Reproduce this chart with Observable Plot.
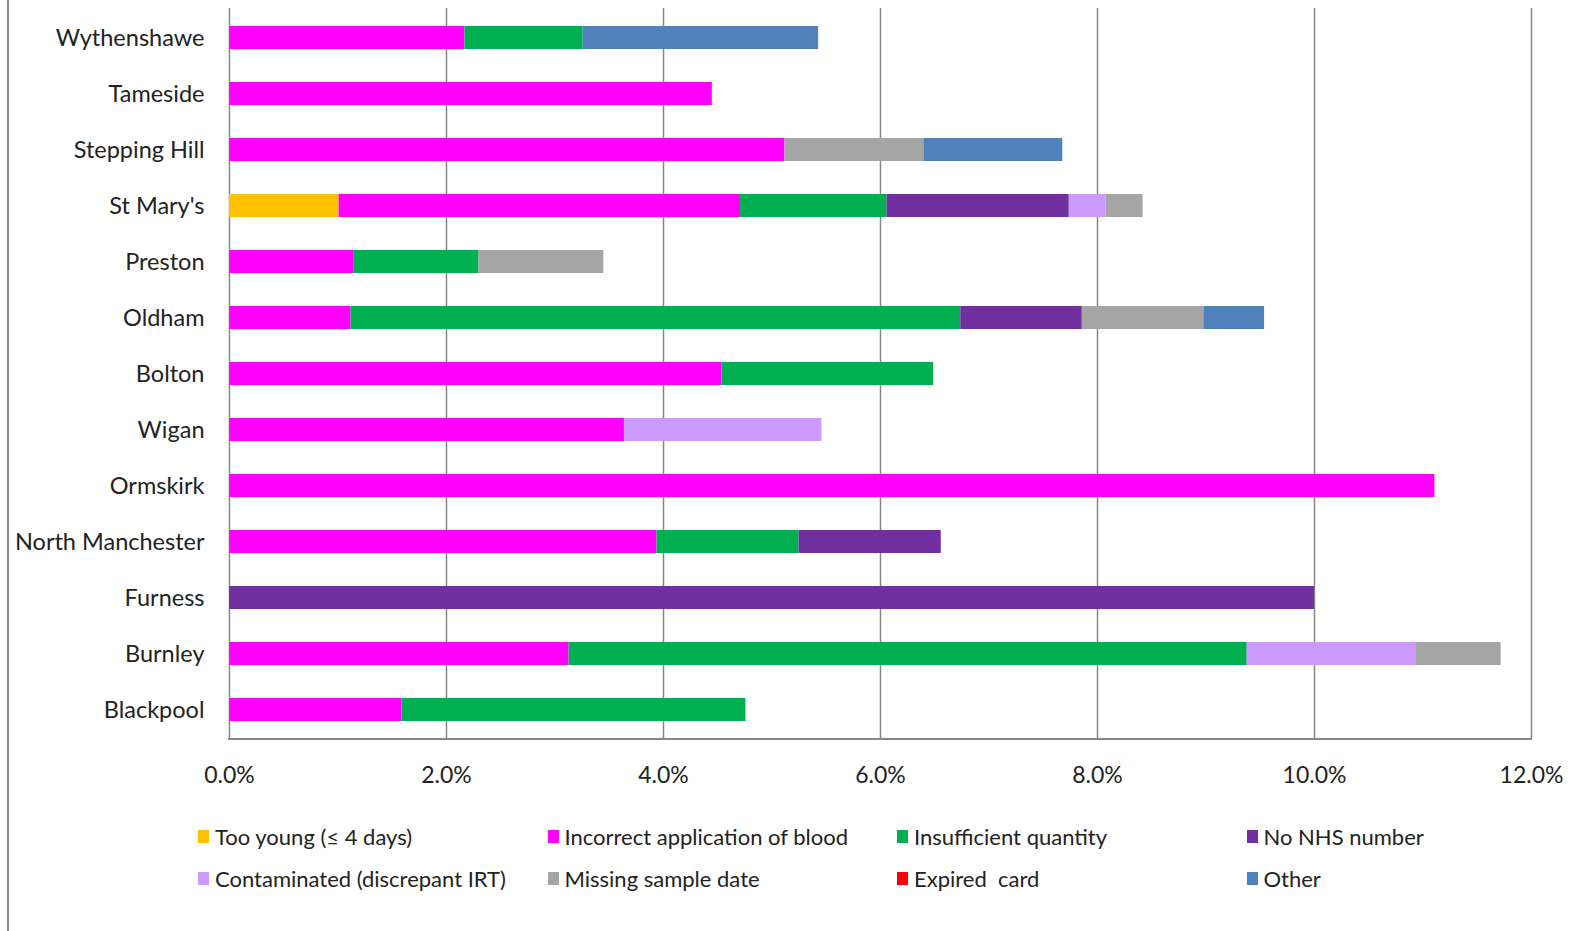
<!DOCTYPE html>
<html>
<head>
<meta charset="utf-8">
<script src="https://cdn.jsdelivr.net/npm/d3@7"></script>
<script src="https://cdn.jsdelivr.net/npm/@observablehq/plot@0.6"></script>
<style>
  html, body { margin: 0; padding: 0; background: #fff; }
  #wrap { position: relative; width: 1575px; height: 931px; overflow: hidden; }
  #edge { position: absolute; left: 7px; top: 0; width: 2px; height: 931px; background: #8c8c8c; }
  #baseline { position: absolute; left: 228px; top: 738px; width: 1304px; height: 1.5px; background: #878787; }
  #chart svg g[aria-label="x-axis tick label"] text,
  #chart svg g[aria-label="x-axis tick label"] { fill: #222; }
  #legend { display: grid; grid-template-columns: repeat(4, 349.5px); grid-auto-rows: 42px;
            padding-left: 198px; padding-top: 15px; font-family: Lato, "Open Sans", sans-serif;
            font-size: 22px; color: #222; }
  .item { display: flex; align-items: center; white-space: pre; }
  .sw { width: 11px; height: 13px; margin-right: 6px; flex: none; }
</style>
</head>
<body>
<div id="wrap">
  <div id="edge"></div>
  <div id="chart"></div>
  <div id="baseline"></div>
  <div id="legend"></div>
</div>
<script>
const sites = ["Wythenshawe", "Tameside", "Stepping Hill", "St Mary's", "Preston", "Oldham", "Bolton",
  "Wigan", "Ormskirk", "North Manchester", "Furness", "Burnley", "Blackpool"];
const causes = ["Too young (≤ 4 days)", "Incorrect application of blood", "Insufficient quantity",
  "No NHS number", "Contaminated (discrepant IRT)", "Missing sample date", "Expired  card", "Other"];
const colors = ["#FFC000", "#FF00FF", "#00B050", "#7030A0", "#CC99FF", "#A5A5A5", "#FF0000", "#4F81BD"];

// percent values per cause, in site order
const tooYoung     = [0, 0, 0, 1.01, 0, 0, 0, 0, 0, 0, 0, 0, 0];
const incorrect    = [2.17, 4.45, 5.12, 3.70, 1.15, 1.12, 4.54, 3.64, 11.11, 3.94, 0, 3.13, 1.59];
const insufficient = [1.09, 0, 0, 1.35, 1.15, 5.62, 1.95, 0, 0, 1.31, 0, 6.25, 3.17];
const noNHS        = [0, 0, 0, 1.68, 0, 1.12, 0, 0, 0, 1.31, 10.0, 0, 0];
const contaminated = [0, 0, 0, 0.34, 0, 0, 0, 1.82, 0, 0, 0, 1.56, 0];
const missingDate  = [0, 0, 1.28, 0.34, 1.15, 1.12, 0, 0, 0, 0, 0, 0.78, 0];
const expired      = [0, 0, 0, 0, 0, 0, 0, 0, 0, 0, 0, 0, 0];
const other        = [2.17, 0, 1.28, 0, 0, 0.56, 0, 0, 0, 0, 0, 0, 0];
const xTicks = [0, 0.02, 0.04, 0.06, 0.08, 0.10, 0.12];

const series = [tooYoung, incorrect, insufficient, noNHS, contaminated, missingDate, expired, other];
const rows = [];
series.forEach((vals, ci) => vals.forEach((v, si) => {
  if (v > 0) rows.push({site: sites[si], cause: causes[ci], value: v / 100});
}));

const chart = Plot.plot({
  width: 1575,
  height: 800,
  marginLeft: 229,
  marginRight: 44,
  marginTop: 8,
  marginBottom: 61,
  x: {domain: [0, 0.12], ticks: xTicks, tickFormat: d3.format(".1%"), tickSize: 0, tickPadding: 27, label: null},
  y: {domain: sites, paddingInner: 0.59, paddingOuter: 0.295, label: null},
  color: {domain: causes, range: colors},
  style: {background: "#fff", color: "#878787", fontFamily: "Lato, sans-serif", fontSize: "23px"},
  marks: [
    Plot.gridX(xTicks, {stroke: "#878787", strokeOpacity: 1, strokeWidth: 1.5}),
    Plot.barX(rows, Plot.stackX({x: "value", y: "site", fill: "cause", order: causes})),
    Plot.axisY({tickSize: 0, tickPadding: 25, fontSize: 23.5, fontFamily: "Lato, sans-serif", fill: "#222", label: null})
  ]
});
document.getElementById("chart").appendChild(chart);

const legend = document.getElementById("legend");
causes.forEach((c, i) => {
  const item = document.createElement("div");
  item.className = "item";
  const sw = document.createElement("span");
  sw.className = "sw";
  sw.style.background = colors[i];
  item.appendChild(sw);
  item.appendChild(document.createTextNode(c));
  legend.appendChild(item);
});
</script>
</body>
</html>
